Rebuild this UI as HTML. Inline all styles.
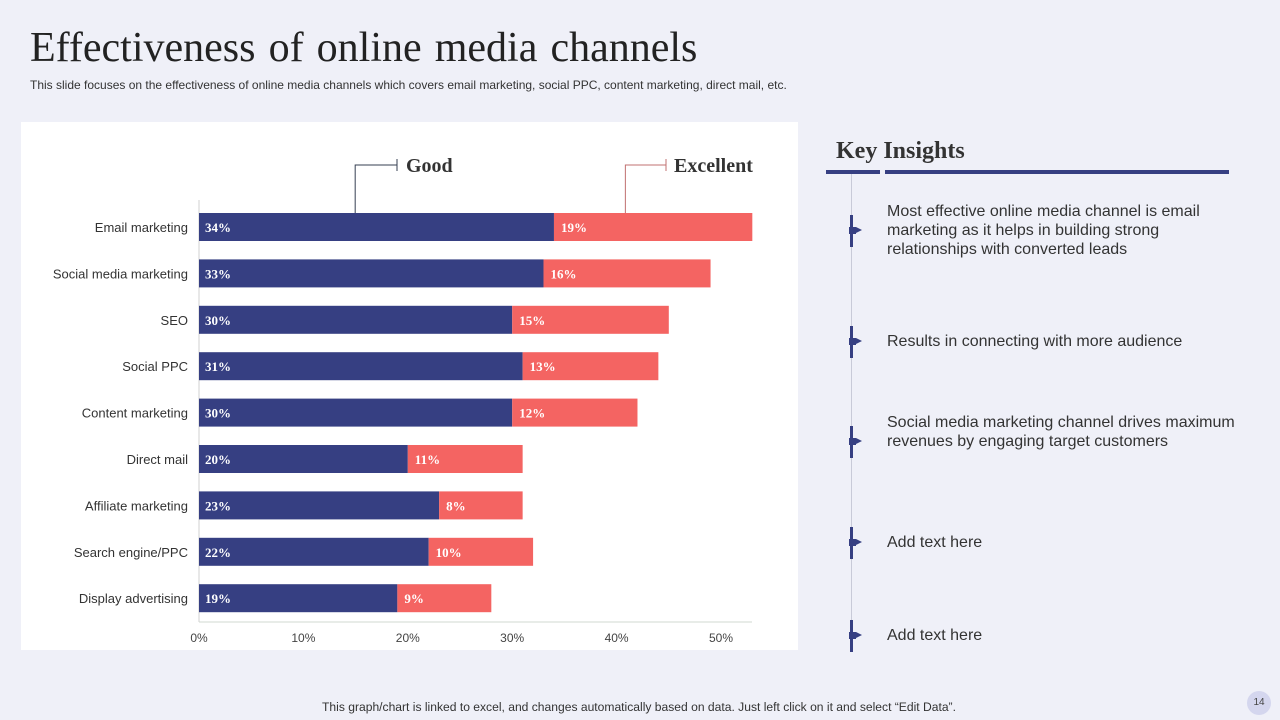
<!DOCTYPE html>
<html><head><meta charset="utf-8">
<style>
*{margin:0;padding:0;box-sizing:border-box}
body{width:1280px;height:720px;background:#eff0f8;position:relative;overflow:hidden;font-family:"Liberation Sans",sans-serif}
.abs{position:absolute}
</style></head><body>
<div class="abs" style="left:30px;top:24px;font-family:'Liberation Serif',serif;font-size:42px;word-spacing:2.6px;color:#222;white-space:nowrap">Effectiveness of online media channels</div>
<div class="abs" style="left:30px;top:78px;font-size:12px;color:#333;white-space:nowrap">This slide focuses on the effectiveness of online media channels which covers email marketing, social PPC, content marketing, direct mail, etc.</div>
<div class="abs" style="left:21px;top:122px;width:777px;height:528px;background:#fff"></div>
<svg class="abs" id="chart" style="left:0;top:0" width="800" height="660"></svg>

<div class="abs" style="left:836px;top:138px;font-family:'Liberation Serif',serif;font-weight:bold;font-size:24px;color:#333">Key Insights</div>
<div class="abs" style="left:826px;top:170px;width:54px;height:4px;background:#363f82"></div>
<div class="abs" style="left:885px;top:170px;width:344px;height:4px;background:#363f82"></div>
<div class="abs" style="left:851px;top:174px;width:1px;height:478px;background:#c8cad8"></div>
<div id="insights"></div>

<div class="abs" style="left:0;width:1278px;top:700px;text-align:center;font-size:12.1px;color:#333">This graph/chart is linked to excel,  and changes automatically based on data. Just left click on it and select “Edit Data”.</div>
<div class="abs" style="left:1247px;top:691px;width:24px;height:24px;border-radius:12px;background:#d4d6ee;font-size:10px;color:#444;text-align:center;line-height:24px">14</div>

<script>
const categories=["Email marketing","Social media marketing","SEO","Social PPC","Content marketing","Direct mail","Affiliate marketing","Search engine/PPC","Display advertising"];
const good=[34,33,30,31,30,20,23,22,19];
const excellent=[19,16,15,13,12,11,8,10,9];
const ticks=[0,10,20,30,40,50];
const insightTexts=["Most effective online media channel is email marketing as it helps in building strong relationships with converted leads","Results in connecting with more audience","Social media marketing channel drives maximum revenues by engaging target customers","Add text here","Add text here"];
const insightY=[231,342,442,543,636];

const NS="http://www.w3.org/2000/svg";
const svg=document.getElementById('chart');
const x0=199,pxPer=10.44;
const X=v=>x0+v*pxPer;
const rowY=i=>227+i*46.4;
const barH=28;
function el(t,a,txt){const e=document.createElementNS(NS,t);for(const k in a)e.setAttribute(k,a[k]);if(txt!=null)e.textContent=txt;svg.appendChild(e);return e;}

let ax=el('line',{x1:x0,y1:200,x2:x0,y2:622,stroke:'#d0d0d0','stroke-width':1});


let bx=el('line',{x1:x0,y1:622,x2:752,y2:622,stroke:'#d0d8d0','stroke-width':1});


ticks.forEach(t=>{
  const e=el('text',{x:X(t),y:642,'text-anchor':'middle','font-size':12,fill:'#444','font-family':'Liberation Sans'},t+'%');
  
  
});
categories.forEach((c,i)=>{
  const cy=rowY(i);
  const lb=el('text',{x:188,y:cy+5,'text-anchor':'end','font-size':13,fill:'#333','font-family':'Liberation Sans'},c);
  
  
  const g=el('rect',{x:X(0),y:cy-barH/2,width:X(good[i])-X(0),height:barH,fill:'#363f82'});
  
  
  const ex=el('rect',{x:X(good[i]),y:cy-barH/2,width:X(good[i]+excellent[i])-X(good[i]),height:barH,fill:'#f46462'});
  
  
  const gl=el('text',{x:X(0)+6,y:cy+5,'font-size':13,'font-weight':'bold',fill:'#fff','font-family':'Liberation Serif'},good[i]+'%');
  
  
  const el2=el('text',{x:X(good[i])+7,y:cy+5,'font-size':13,'font-weight':'bold',fill:'#fff','font-family':'Liberation Serif'},excellent[i]+'%');
  
  
});
const gx=X(good[0]*0.44), exx=X(good[0]+excellent[0]*0.36);
let p1=el('polyline',{points:`${gx},${rowY(0)-barH/2} ${gx},165 ${397},165`,fill:'none',stroke:'#363f52','stroke-width':1});


let t1=el('line',{x1:397,y1:159,x2:397,y2:171,stroke:'#363f52','stroke-width':1});


let l1=el('text',{x:406,y:172,'font-size':20,'font-weight':'bold',fill:'#333','font-family':'Liberation Serif'},'Good');


let p2=el('polyline',{points:`${exx},${rowY(0)-barH/2} ${exx},165 ${666},165`,fill:'none',stroke:'#c07070','stroke-width':1});


let t2=el('line',{x1:666,y1:159,x2:666,y2:171,stroke:'#c07070','stroke-width':1});


let l2=el('text',{x:674,y:172,'font-size':20,'font-weight':'bold',fill:'#333','font-family':'Liberation Serif'},'Excellent');



const box=document.getElementById('insights');
insightTexts.forEach((t,i)=>{
  const y=insightY[i];
  const ic=document.createElement('div');
  ic.className='abs';
  
  
  ic.style.cssText=`left:849px;top:${y-16}px;width:16px;height:32px`;
  ic.innerHTML=`<div style="position:absolute;left:1px;top:0;width:3px;height:32px;background:#363f82"></div><div style="position:absolute;left:0;top:12px;width:7px;height:7px;background:#363f82"></div><div style="position:absolute;left:7px;top:12px;width:0;height:0;border-top:3.5px solid transparent;border-bottom:3.5px solid transparent;border-left:6px solid #363f82"></div>`;
  box.appendChild(ic);
  const lines=(t.length>60)?3:(t.length>40?2:1);
  const tx=document.createElement('div');
  tx.className='abs';
  
  
  tx.style.cssText=`left:887px;top:${y-lines*19/2-1}px;width:355px;font-size:16px;line-height:19px;color:#333`;
  tx.textContent=t;
  box.appendChild(tx);
});
</script>
</body></html>
